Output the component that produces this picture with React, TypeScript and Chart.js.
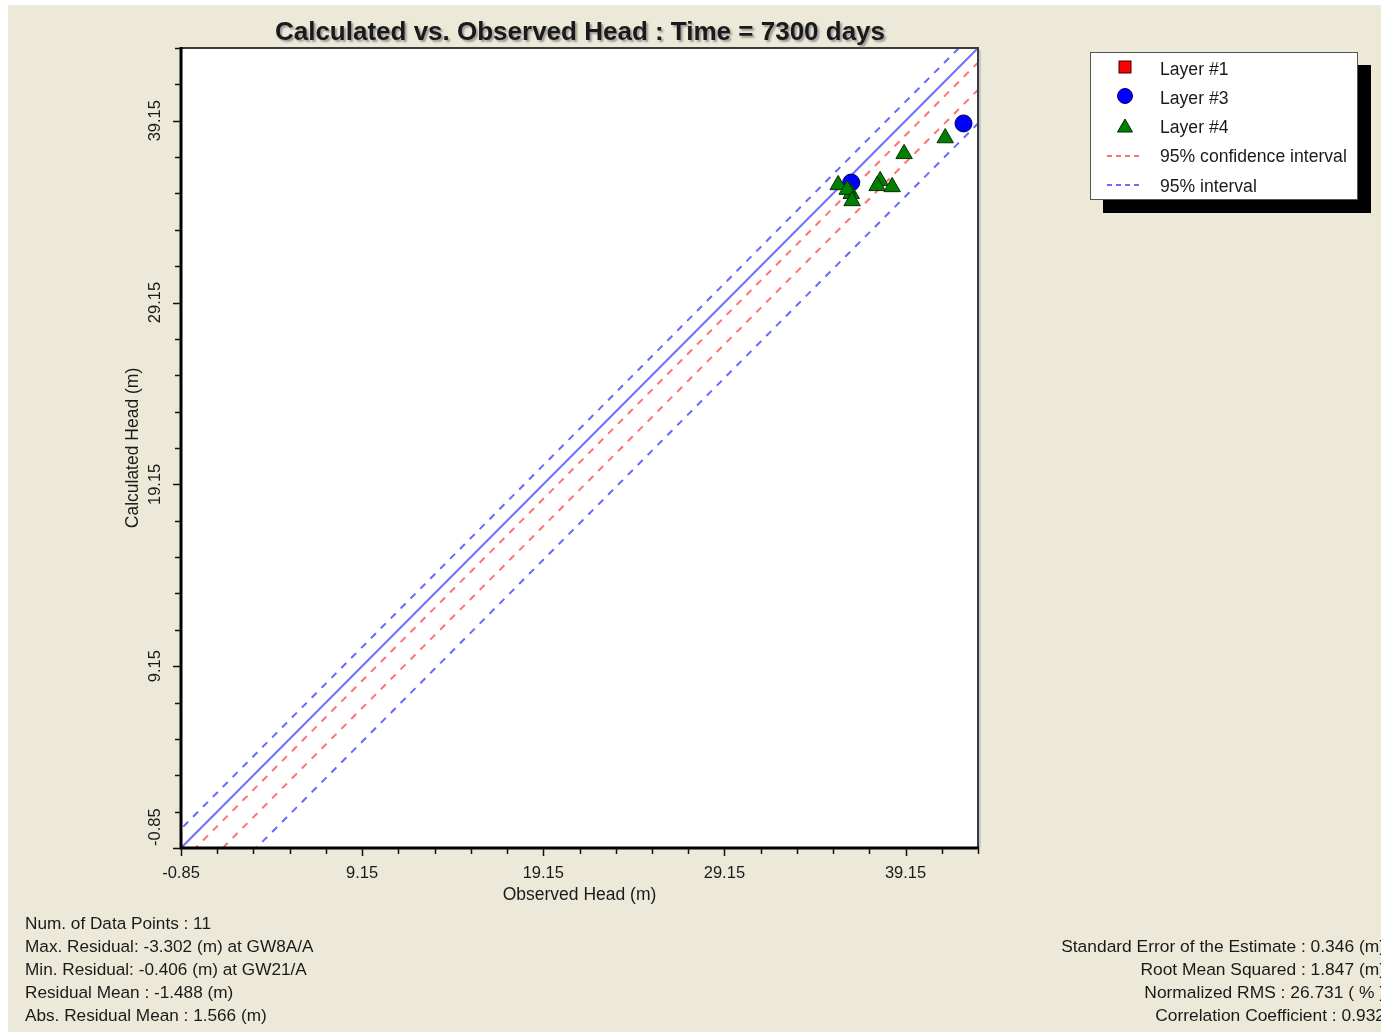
import React, { useEffect, useRef } from "react";
import { Chart, registerables } from "chart.js";

Chart.register(...registerables);

// ---- data (observed head, calculated head) ----
const LAYER1_OBS: number[] = [];
const LAYER1_CALC: number[] = [];
const LAYER3_OBS = [42.35, 36.15];
const LAYER3_CALC = [39.0, 35.75];
const LAYER4_OBS = [41.34, 39.07, 35.43, 36.15, 35.93, 36.2, 37.75, 37.58, 38.41];
const LAYER4_CALC = [38.2, 37.33, 35.62, 35.13, 35.36, 34.74, 35.84, 35.57, 35.51];

// ---- axes ----
const AXIS_MIN = -0.85;
const AXIS_MAX = 43.15;
const MAJOR_TICKS = [-0.85, 9.15, 19.15, 29.15, 39.15];
const MINOR_STEP = 2;

// ---- reference lines (calc = obs + offset) ----
const LINE_X = [-10, 55];
const IDENTITY_OFFSET = 0;
const CONF_OFFSETS = [-0.8, -2.3];
const PRED_OFFSETS = [1.05, -4.15];

const TITLE = "Calculated vs. Observed Head : Time = 7300 days";
const X_TITLE = "Observed Head (m)";
const Y_TITLE = "Calculated Head (m)";
const LEGEND_LABELS = ["Layer #1", "Layer #3", "Layer #4", "95% confidence interval", "95% interval"];
const STATS_LEFT = [
  "Num. of Data Points : 11",
  "Max. Residual: -3.302 (m) at GW8A/A",
  "Min. Residual: -0.406 (m) at GW21/A",
  "Residual Mean : -1.488 (m)",
  "Abs. Residual Mean : 1.566 (m)",
];
const STATS_RIGHT = [
  "Standard Error of the Estimate : 0.346 (m)",
  "Root Mean Squared : 1.847 (m)",
  "Normalized RMS : 26.731 ( % )",
  "Correlation Coefficient : 0.932",
];

const FONT = "'Liberation Sans', Arial, sans-serif";
const W = 1373;
const H = 1027;

function minorTicks(): number[] {
  const out: number[] = [];
  for (let v = AXIS_MIN; v <= AXIS_MAX + 1e-6; v += MINOR_STEP) out.push(v);
  return out;
}

const framePlugin = {
  id: "frame",
  beforeDatasetsDraw(chart: any) {
    const { ctx, chartArea: a } = chart;
    ctx.save();
    ctx.fillStyle = "#ffffff";
    ctx.fillRect(a.left, a.top, a.right - a.left, a.bottom - a.top);
    ctx.restore();
  },
  afterDatasetsDraw(chart: any) {
    const { ctx, chartArea: a, scales } = chart;
    const xs = scales.x;
    const ys = scales.y;
    ctx.save();
    // top / right frame
    ctx.strokeStyle = "#c8c8c8";
    ctx.lineWidth = 2;
    ctx.beginPath();
    ctx.moveTo(a.right + 2, a.top + 2);
    ctx.lineTo(a.right + 2, a.bottom);
    ctx.stroke();
    ctx.strokeStyle = "#3a3a3a";
    ctx.lineWidth = 2;
    ctx.beginPath();
    ctx.moveTo(a.left, a.top);
    ctx.lineTo(a.right, a.top);
    ctx.lineTo(a.right, a.bottom);
    ctx.stroke();
    // axes
    ctx.strokeStyle = "#000";
    ctx.lineWidth = 3;
    ctx.beginPath();
    ctx.moveTo(a.left, a.top - 1);
    ctx.lineTo(a.left, a.bottom);
    ctx.lineTo(a.right + 1, a.bottom);
    ctx.stroke();
    // ticks
    ctx.lineWidth = 1.5;
    ctx.strokeStyle = "#111";
    const isMajor = (v: number) => MAJOR_TICKS.some((m) => Math.abs(m - v) < 1e-6);
    for (const v of minorTicks()) {
      const len = isMajor(v) ? 8 : 6;
      const px = Math.round(xs.getPixelForValue(v)) + 0.5;
      ctx.beginPath();
      ctx.moveTo(px, a.bottom);
      ctx.lineTo(px, a.bottom + len);
      ctx.stroke();
      const py = Math.round(ys.getPixelForValue(v)) + 0.5;
      ctx.beginPath();
      ctx.moveTo(a.left, py);
      ctx.lineTo(a.left - len, py);
      ctx.stroke();
    }
    // labels
    ctx.fillStyle = "#1a1a1a";
    ctx.font = `16.5px ${FONT}`;
    ctx.textAlign = "center";
    ctx.textBaseline = "middle";
    for (const v of MAJOR_TICKS) {
      ctx.fillText(v.toFixed(2), xs.getPixelForValue(v), a.bottom + 25);
    }
    MAJOR_TICKS.forEach((v, i) => {
      ctx.save();
      ctx.translate(a.left - 26, ys.getPixelForValue(v));
      ctx.rotate(-Math.PI / 2);
      ctx.textAlign = i === 0 ? "left" : "center";
      ctx.fillText(v.toFixed(2), i === 0 ? 2 : 0, 0);
      ctx.restore();
    });
    ctx.restore();
  },
};

function refLine(offset: number, color: string, dash: number[], width: number) {
  return {
    label: "",
    data: LINE_X.map((x) => ({ x, y: x + offset })),
    showLine: true,
    borderColor: color,
    borderWidth: width,
    borderDash: dash,
    pointRadius: 0,
    pointHoverRadius: 0,
    clip: 0,
    fill: false,
  };
}

function LegendSymbol({ kind }: { kind: number }) {
  if (kind === 0)
    return (
      <svg width="40" height="20">
        <rect x="14" y="2" width="12" height="12" fill="#ff0000" stroke="#400000" strokeWidth="1" />
      </svg>
    );
  if (kind === 1)
    return (
      <svg width="40" height="20">
        <circle cx="20" cy="8" r="7.5" fill="#0000ff" stroke="#000060" strokeWidth="1" />
      </svg>
    );
  if (kind === 2)
    return (
      <svg width="40" height="20">
        <polygon points="20,1 27.5,14 12.5,14" fill="#008000" stroke="#002800" strokeWidth="1" />
      </svg>
    );
  const color = kind === 3 ? "#ff7070" : "#6b6bff";
  return (
    <svg width="40" height="20">
      <line x1="2" y1="9" x2="38" y2="9" stroke={color} strokeWidth="2" strokeDasharray="5 4" />
    </svg>
  );
}

export default function App() {
  const canvasRef = useRef<HTMLCanvasElement | null>(null);

  useEffect(() => {
    const canvas = canvasRef.current;
    if (!canvas) return;
    const chart = new Chart(canvas, {
      type: "scatter",
      data: {
        datasets: [
          {
            label: "Layer #4",
            data: LAYER4_OBS.map((x, i) => ({ x, y: LAYER4_CALC[i] })),
            pointStyle: "triangle",
            pointRadius: 9.5,
            backgroundColor: "#008000",
            borderColor: "#0d2a0d",
            borderWidth: 1,
          },
          {
            label: "Layer #3",
            data: LAYER3_OBS.map((x, i) => ({ x, y: LAYER3_CALC[i] })),
            pointStyle: "circle",
            pointRadius: 8.5,
            backgroundColor: "#0000ff",
            borderColor: "#00005a",
            borderWidth: 1,
          },
          {
            label: "Layer #1",
            data: LAYER1_OBS.map((x, i) => ({ x, y: LAYER1_CALC[i] })),
            pointStyle: "rect",
            pointRadius: 7,
            backgroundColor: "#ff0000",
            borderColor: "#400000",
            borderWidth: 1,
          },
          refLine(IDENTITY_OFFSET, "#6f6fff", [], 2),
          refLine(CONF_OFFSETS[0], "#ff7373", [7, 7], 2),
          refLine(CONF_OFFSETS[1], "#ff7373", [7, 7], 2),
          refLine(PRED_OFFSETS[0], "#6868ff", [7, 7], 2),
          refLine(PRED_OFFSETS[1], "#6868ff", [7, 7], 2),
        ] as any,
      },
      options: {
        animation: false,
        responsive: false,
        devicePixelRatio: 1,
        layout: { padding: { left: 115, top: 43, right: 403, bottom: 126 } },
        plugins: {
          legend: { display: false },
          tooltip: { enabled: false },
          title: { display: false },
        },
        scales: {
          x: {
            type: "linear",
            min: AXIS_MIN,
            max: AXIS_MAX,
            grid: { display: false },
            border: { display: false },
            ticks: { display: false },
            title: {
              display: true,
              text: X_TITLE,
              color: "#1a1a1a",
              font: { family: FONT, size: 17.5 },
              padding: 0,
            },
            afterFit: (s: any) => {
              s.height = 58;
            },
          },
          y: {
            type: "linear",
            min: AXIS_MIN,
            max: AXIS_MAX,
            grid: { display: false },
            border: { display: false },
            ticks: { display: false },
            title: {
              display: true,
              text: Y_TITLE,
              color: "#1a1a1a",
              font: { family: FONT, size: 17.5 },
              padding: 0,
            },
            afterFit: (s: any) => {
              s.width = 58;
            },
          },
        },
      } as any,
      plugins: [framePlugin],
    });
    return () => chart.destroy();
  }, []);

  return (
    <div
      style={{
        position: "fixed",
        left: 8,
        top: 5,
        width: W,
        height: H,
        overflow: "hidden",
        background: "#ece9d8",
        fontFamily: FONT,
        color: "#1a1a1a",
      }}
    >
      <canvas ref={canvasRef} width={W} height={H} style={{ position: "absolute", left: 0, top: 0, width: W, height: H }} />
      <div
        style={{
          position: "absolute",
          left: 572 - 400,
          width: 800,
          top: 9,
          textAlign: "center",
          fontSize: 26,
          fontWeight: "bold",
          lineHeight: "34px",
          textShadow: "2px 2px 2px #9a9a9a",
          color: "#1a1a1a",
        }}
      >
        {TITLE}
      </div>
      <div
        style={{
          position: "absolute",
          left: 1082,
          top: 47,
          width: 266,
          height: 146,
          background: "#fff",
          border: "1px solid #555",
          boxShadow: "13px 13px 0 0 #000",
        }}
      >
        {LEGEND_LABELS.map((lab, i) => (
          <div
            key={lab}
            style={{
              position: "absolute",
              left: 14,
              top: 6 + i * 29.3,
              height: 20,
              display: "flex",
              alignItems: "center",
              whiteSpace: "nowrap",
            }}
          >
            <LegendSymbol kind={i} />
            <span style={{ marginLeft: 15, fontSize: 17.6 }}>{lab}</span>
          </div>
        ))}
      </div>
      <div style={{ position: "absolute", left: 17, top: 907, fontSize: 17.2, lineHeight: "23px", whiteSpace: "nowrap" }}>
        {STATS_LEFT.map((t) => (
          <div key={t}>{t}</div>
        ))}
      </div>
      <div
        style={{
          position: "absolute",
          right: -4,
          top: 930,
          fontSize: 17.4,
          lineHeight: "23px",
          whiteSpace: "nowrap",
          textAlign: "right",
        }}
      >
        {STATS_RIGHT.map((t) => (
          <div key={t}>{t}</div>
        ))}
      </div>
    </div>
  );
}
